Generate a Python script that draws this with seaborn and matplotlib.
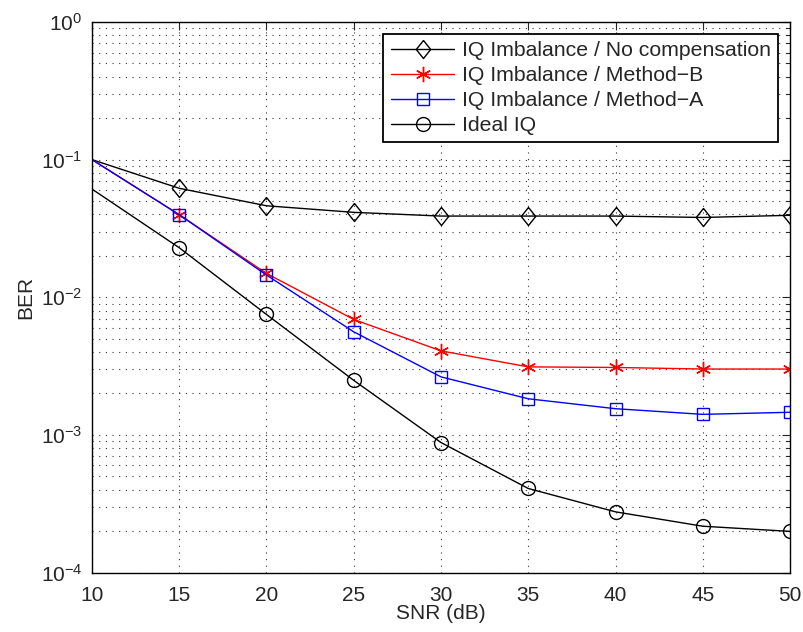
import numpy as np
import pandas as pd
import matplotlib
matplotlib.use('Agg')
import matplotlib.pyplot as plt
import seaborn as sns
from matplotlib.lines import Line2D
from matplotlib.ticker import LogLocator, NullFormatter, MultipleLocator

# values
snr = [10, 15, 20, 25, 30, 35, 40, 45, 50]
ber_nocomp = [0.1, 0.0619, 0.0462, 0.0414, 0.0389, 0.0389, 0.0389, 0.038, 0.0394]
ber_method_b = [0.1, 0.0398, 0.0149, 0.0069, 0.00408, 0.00312, 0.00309, 0.00301, 0.00301]
ber_method_a = [0.1, 0.0398, 0.0145, 0.00561, 0.00264, 0.00183, 0.00155, 0.00141, 0.00146]
ber_ideal = [0.0611, 0.0229, 0.0075, 0.00249, 0.00088, 0.000408, 0.000276, 0.000217, 0.000199]

labels = ['IQ Imbalance / No compensation',
          'IQ Imbalance / Method\u2212B',
          'IQ Imbalance / Method\u2212A',
          'Ideal IQ']

df = pd.DataFrame({
    'SNR': snr * 4,
    'BER': ber_nocomp + ber_method_b + ber_method_a + ber_ideal,
    'curve': [labels[0]] * 9 + [labels[1]] * 9 + [labels[2]] * 9 + [labels[3]] * 9,
})

sns.set_style('white')
plt.rcParams['font.family'] = ['Liberation Sans', 'DejaVu Sans']
plt.rcParams['mathtext.fontset'] = 'custom'
plt.rcParams['mathtext.rm'] = 'Liberation Sans'
plt.rcParams['mathtext.it'] = 'Liberation Sans'
plt.rcParams['xtick.direction'] = 'in'
plt.rcParams['ytick.direction'] = 'in'

fig = plt.figure(figsize=(8.04, 6.32), dpi=100)
ax = fig.add_axes([0.1144, 0.0941, 0.8682, 0.8711])

diamond = [(0, 1), (0.8, 0), (0, -1), (-0.8, 0), (0, 1)]
styles = {
    labels[0]: dict(color='black', marker=diamond, ms=13),
    labels[1]: dict(color='red', marker=(6, 2, 0), ms=11),
    labels[2]: dict(color='blue', marker='s', ms=9),
    labels[3]: dict(color='black', marker='o', ms=10),
}

handles = []
for name in labels:
    st = styles[name]
    sub = df[df['curve'] == name]
    sns.lineplot(data=sub, x='SNR', y='BER', ax=ax, color=st['color'],
                 marker=st['marker'], markersize=st['ms'], markerfacecolor='none',
                 markeredgecolor=st['color'], markeredgewidth=1.0, linewidth=1.0,
                 markevery=slice(1, None))
    handles.append(Line2D([], [], color=st['color'], marker=st['marker'],
                          markersize=st['ms'], markerfacecolor='none',
                          markeredgecolor=st['color'], markeredgewidth=1.0,
                          linewidth=1.0, label=name))

ax.set_yscale('log')
ax.set_xlim(10, 50)
ax.set_ylim(1e-4, 1)
ax.xaxis.set_major_locator(MultipleLocator(5))
ax.yaxis.set_major_locator(LogLocator(base=10, numticks=10))
ax.yaxis.set_minor_locator(LogLocator(base=10, subs=np.arange(2, 10), numticks=10))
ax.yaxis.set_minor_formatter(NullFormatter())

ax.grid(True, which='major', axis='both', linestyle=(0, (1, 5)), color='#333333', linewidth=0.8)
ax.grid(True, which='minor', axis='y', linestyle=(0, (1, 5)), color='#333333', linewidth=0.8)

ax.tick_params(which='both', top=True, right=True, labelsize=15)
ax.tick_params(axis='x', pad=10)
ax.tick_params(axis='y', pad=7)
ax.tick_params(which='major', length=6, width=0.8)
ax.tick_params(which='minor', length=3, width=0.8)
for s in ax.spines.values():
    s.set_color('black')
    s.set_linewidth(1.0)

ax.set_xlabel('SNR (dB)', fontsize=15, labelpad=-1)
ax.set_ylabel('BER', fontsize=15, labelpad=4)

leg = ax.legend(handles=handles, loc='upper right', fontsize=15.3, frameon=True,
                fancybox=False, edgecolor='black', framealpha=1, borderpad=0.35,
                labelspacing=0.28, handlelength=3.0, handletextpad=0.35,
                borderaxespad=0.55, numpoints=1)
leg.get_frame().set_linewidth(1.3)

fig.savefig('out.png', dpi=100)
